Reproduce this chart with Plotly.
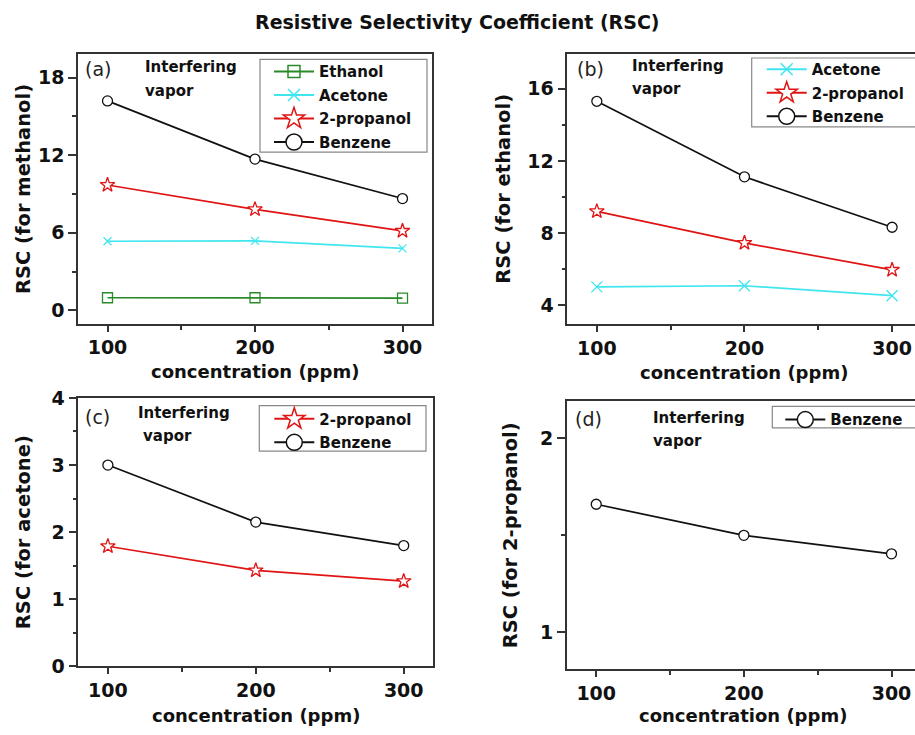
import plotly.graph_objects as go

# ---------------- data ----------------
conc = [100, 200, 300]

a_ethanol = [0.98, 0.98, 0.96]
a_acetone = [5.35, 5.38, 4.80]
a_propanol = [9.70, 7.82, 6.15]
a_benzene = [16.2, 11.7, 8.65]

b_acetone = [5.03, 5.09, 4.54]
b_propanol = [9.21, 7.46, 5.97]
b_benzene = [15.3, 11.12, 8.33]

c_propanol = [1.79, 1.43, 1.27]
c_benzene = [3.00, 2.15, 1.80]

d_benzene = [1.66, 1.50, 1.405]

panel_labels = ["(a)", "(b)", "(c)", "(d)"]
y_titles = ["RSC (for methanol)", "RSC (for ethanol)", "RSC (for acetone)", "RSC (for 2-propanol)"]
x_title = "concentration (ppm)"
main_title = "Resistive Selectivity Coefficient (RSC)"

# ---------------- styles ----------------
W, H = 915, 735
FONT = "DejaVu Sans"
GREEN = "#2a8a2a"
CYAN = "#3fe6ef"
RED = "#e01414"
BLACK = "#111111"

styles = {
    "Ethanol": dict(color=GREEN, symbol="square-open", fill=GREEN, size=10, lsize=12),
    "Acetone": dict(color=CYAN, symbol="x-thin-open", fill=CYAN, size=8, lsize=12),
    "2-propanol": dict(color=RED, symbol="star", fill="white", size=11, lsize=16),
    "Benzene": dict(color=BLACK, symbol="circle", fill="white", size=10, lsize=16),
}

# the rendered page shows a slight vertical offset/scale; place items by their
# intended on-screen pixel position
Y_OFF, Y_SCALE = 10.6, 0.972

def px2x(p):
    return p / W

def py(t):
    return (t - Y_OFF) / Y_SCALE

def px2y(t):
    return 1 - py(t) / H

fig = go.Figure()

panels = [
    ("x", "y", "legend", [("Ethanol", a_ethanol, 10), ("Acetone", a_acetone, 8), ("2-propanol", a_propanol, 11), ("Benzene", a_benzene, 10)],
     (78, 432), (54, 324), [-1.03, 19.8], 6, 3, False),
    ("x2", "y2", "legend2", [("Acetone", b_acetone, 11), ("2-propanol", b_propanol, 11), ("Benzene", b_benzene, 10)],
     (567.3, 915), (54, 324.3), [2.97, 17.9], 4, 2, True),
    ("x3", "y3", "legend3", [("2-propanol", c_propanol, 11), ("Benzene", c_benzene, 10)],
     (78.3, 433.3), (398.3, 667.3), [0, 4], 1, 0.5, False),
    ("x4", "y4", "legend4", [("Benzene", d_benzene, 10)],
     (566.7, 915), (401.7, 670.3), [0.81, 2.19], 1, 0.5, True),
]

# legend boxes (left, top, right, bottom) in px, plus text offset tweaks
legend_box = [
    (260, 59, 427, 152),
    (751.7, 57.7, 918, 126.7),
    (259.3, 406, 426, 451.7),
    (772.3, 406.7, 918, 428.3),
]
legend_dx = [9, 10, 10, 8]
legend_dy = [-4, -5, -3, -3]

layout_axes = {}
for i, (xa, ya, lg, series, xd, yd, yr, dt, mdt, clipped) in enumerate(panels):
    for name, vals, msize in series:
        st = styles[name]
        fig.add_trace(go.Scatter(
            x=conc, y=vals, mode="lines+markers", name=name,
            xaxis=xa, yaxis=ya, showlegend=False,
            line=dict(color=st["color"], width=1.7),
            marker=dict(symbol=st["symbol"], size=msize, color=st["fill"],
                        line=dict(color=st["color"], width=1.3)),
        ))
        fig.add_trace(go.Scatter(
            x=[None], y=[None], mode="lines+markers", name=name,
            xaxis=xa, yaxis=ya, showlegend=True, legend=lg, legendgroup=lg + name,
            line=dict(color=st["color"], width=2),
            marker=dict(symbol=st["symbol"], size=st["lsize"], color=st["fill"],
                        line=dict(color=st["color"], width=1.5)),
        ))
    xr = [80, 300 + (915 - (xd[0] + 29.4 + 2 * 147.7)) / 1.477] if clipped else [80, 320]
    xkey = "xaxis" if xa == "x" else "xaxis" + xa[1:]
    ykey = "yaxis" if ya == "y" else "yaxis" + ya[1:]
    layout_axes[xkey] = dict(
        domain=[px2x(xd[0]), px2x(xd[1])], anchor=ya, range=xr,
        tickvals=conc, ticks="outside", ticklen=6, tickwidth=1.5, tickcolor="#333",
        showline=True, linecolor="#333", linewidth=1.5, mirror=True,
        showgrid=False, zeroline=False,
        tickfont=dict(family=FONT, size=19, color="#111", weight="bold"),
        minor=dict(tickvals=[150, 250], ticks="outside", ticklen=4, tickcolor="#333"),
    )
    ticks_main = []
    v = 0.0
    while v <= yr[1] + 1e-9:
        if v >= yr[0] - 1e-9:
            ticks_main.append(round(v, 3))
        v += dt
    minors = []
    v = 0.0
    while v <= yr[1] + 1e-9:
        if v >= yr[0] - 1e-9 and round(v / dt, 6) != round(v / dt):
            minors.append(round(v, 3))
        v += mdt
    layout_axes[ykey] = dict(
        domain=[px2y(yd[1]), px2y(yd[0])], anchor=xa, range=yr,
        tickvals=ticks_main, ticks="outside", ticklen=8, tickwidth=1.5, tickcolor="#333",
        showline=True, linecolor="#333", linewidth=1.5, mirror=not clipped,
        showgrid=False, zeroline=False,
        tickfont=dict(family=FONT, size=19, color="#111", weight="bold"),
        minor=dict(tickvals=minors, ticks="outside", ticklen=4, tickcolor="#333"),
    )

legends = {}
shapes = []
for i, (l, t, r, b) in enumerate(legend_box):
    key = "legend" if i == 0 else "legend%d" % (i + 1)
    legends[key] = dict(
        x=px2x(l + legend_dx[i]), y=px2y(t + legend_dy[i]), xanchor="left", yanchor="top",
        xref="paper", yref="paper",
        borderwidth=0, bgcolor="rgba(0,0,0,0)",
        font=dict(family=FONT, size=15, color="#111", weight="bold"),
        tracegroupgap=1, itemwidth=40,
    )
    shapes.append(dict(type="rect", xref="paper", yref="paper",
                       x0=px2x(l), x1=px2x(r), y0=px2y(b), y1=px2y(t),
                       line=dict(color="#888", width=1.2), fillcolor="white", layer="above"))

annotations = []
lab_pos = [(83, 69), (575, 69), (83, 417), (573, 419)]
int_pos = [(142.7, 66.7, 90.7), (630, 65.7, 89), (136, 413, 436.7), (650.7, 418.3, 441.7)]
for i in range(4):
    lx, ly = lab_pos[i]
    annotations.append(dict(x=px2x(lx), y=px2y(ly), xref="paper", yref="paper",
                            text=panel_labels[i], showarrow=False, xanchor="left", yanchor="middle",
                            font=dict(family=FONT, size=19, color="#222")))
    ix, iy1, iy2 = int_pos[i]
    annotations.append(dict(x=px2x(ix), y=px2y(iy1), xref="paper", yref="paper",
                            text="Interfering", showarrow=False, xanchor="left", yanchor="middle",
                            font=dict(family=FONT, size=15, color="#111", weight="bold")))
    annotations.append(dict(x=px2x(ix + (5 if i == 2 else 0)), y=px2y(iy2), xref="paper", yref="paper",
                            text="vapor", showarrow=False, xanchor="left", yanchor="middle",
                            font=dict(family=FONT, size=15, color="#111", weight="bold")))

ytitle_pos = [(23, 189), (502.7, 189), (23, 532.8), (510, 536)]
xtitle_pos = [(255, 372), (744, 373), (255.7, 716.5), (743.3, 716.5)]
for i in range(4):
    yx, yy = ytitle_pos[i]
    annotations.append(dict(x=px2x(yx), y=px2y(yy), xref="paper", yref="paper",
                            text=y_titles[i], showarrow=False, textangle=-90,
                            xanchor="center", yanchor="middle",
                            font=dict(family=FONT, size=19.5, color="#111", weight="bold")))
    xx, xy = xtitle_pos[i]
    annotations.append(dict(x=px2x(xx), y=px2y(xy), xref="paper", yref="paper",
                            text=x_title, showarrow=False,
                            xanchor="center", yanchor="middle",
                            font=dict(family=FONT, size=18, color="#111", weight="bold")))

annotations.append(dict(x=px2x(457), y=px2y(22), xref="paper", yref="paper",
                        text=main_title, showarrow=False, xanchor="center", yanchor="middle",
                        font=dict(family=FONT, size=19, color="#111", weight="bold")))

fig.update_layout(
    width=W, height=H, autosize=False,
    margin=dict(l=0, r=0, t=0, b=0),
    paper_bgcolor="white", plot_bgcolor="white",
    annotations=annotations, shapes=shapes,
    **layout_axes, **legends,
)

fig.write_html(
    "out.html",
    config={"displayModeBar": False, "responsive": False},
    post_script=(
        "var gd=document.getElementById('{plot_id}');"
        "document.documentElement.style.cssText='margin:0;padding:0;overflow:hidden;height:735px;width:915px;';"
        "document.body.style.cssText='margin:0;padding:0;overflow:hidden;height:735px;width:915px;position:relative;';"
        "gd.style.position='absolute';gd.style.top='0px';gd.style.left='0px';"
    ),
)
